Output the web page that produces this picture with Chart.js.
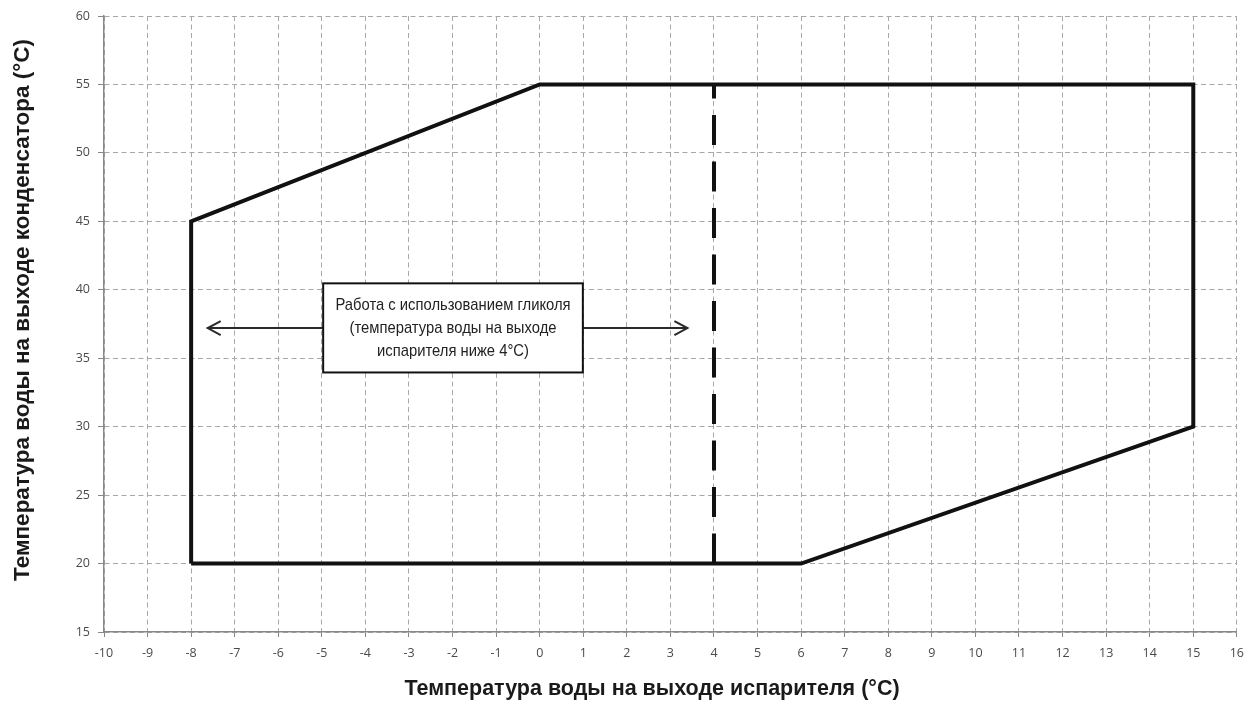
<!DOCTYPE html>
<html>
<head>
<meta charset="utf-8">
<script src="https://cdn.jsdelivr.net/npm/chart.js@4/dist/chart.umd.min.js"></script>
<style>
  html, body { margin: 0; padding: 0; background: #fff; }
  #wrap { width: 1253px; height: 703px; position: relative; }
</style>
</head>
<body>
<div id="wrap"><canvas id="chart"></canvas></div>
<script>
// operating envelope (evaporator out, condenser out)
var envelopeX = [-8, -8, 0, 15, 15, 6, -8];
var envelopeY = [20, 45, 55, 55, 30, 20, 20];

// glycol limit line at 4 C
var glycolX = [4, 4];
var glycolY = [20, 55];

// annotation: box corners and arrow ends
var noteLines = ['Работа с использованием гликоля', '(температура воды на выходе', 'испарителя ниже 4°C)'];
var noteBoxX = [-4.97, 0.99];
var noteBoxY = [33.96, 40.47];
var arrowY = 37.2;
var arrowLeftX = [-4.97, -7.62];
var arrowRightX = [0.99, 3.39];

var xTitle = 'Температура воды на выходе испарителя (°C)';
var yTitle = 'Температура воды на выходе конденсатора (°C)';

function pts(xs, ys) {
  return xs.map(function(x, i) { return { x: x, y: ys[i] }; });
}

var notePlugin = {
  id: 'note',
  afterDatasetsDraw: function(chart) {
    var ctx = chart.ctx;
    var sx = chart.scales.x, sy = chart.scales.y;
    var ay = sy.getPixelForValue(arrowY);

    function arrow(x0, x1) {
      var p0 = sx.getPixelForValue(x0), p1 = sx.getPixelForValue(x1);
      var d = p1 > p0 ? 1 : -1;
      ctx.beginPath();
      ctx.moveTo(p0, ay);
      ctx.lineTo(p1, ay);
      ctx.moveTo(p1 - d * 13, ay - 7);
      ctx.lineTo(p1, ay);
      ctx.lineTo(p1 - d * 13, ay + 7);
      ctx.stroke();
    }

    ctx.save();
    ctx.strokeStyle = '#2a2a2a';
    ctx.lineWidth = 2;
    ctx.lineJoin = 'miter';
    arrow(arrowLeftX[0], arrowLeftX[1]);
    arrow(arrowRightX[0], arrowRightX[1]);

    var l = sx.getPixelForValue(noteBoxX[0]), r = sx.getPixelForValue(noteBoxX[1]);
    var t = sy.getPixelForValue(noteBoxY[1]), b = sy.getPixelForValue(noteBoxY[0]);
    ctx.fillStyle = '#fff';
    ctx.fillRect(l, t, r - l, b - t);
    ctx.strokeStyle = '#111';
    ctx.lineWidth = 2;
    ctx.strokeRect(l, t, r - l, b - t);

    // condensed look: squeeze a normal sans horizontally
    ctx.fillStyle = '#222';
    ctx.font = '17px "Liberation Sans", Arial, sans-serif';
    ctx.textAlign = 'center';
    ctx.textBaseline = 'middle';
    var cx = (l + r) / 2, cy = (t + b) / 2;
    noteLines.forEach(function(s, i) {
      ctx.save();
      ctx.translate(cx, cy + (i - 1) * 23);
      ctx.scale(0.87, 1);
      ctx.fillText(s, 0, 0);
      ctx.restore();
    });
    ctx.restore();
  },
  afterDraw: function(chart) {
    var ctx = chart.ctx;
    ctx.save();
    ctx.fillStyle = '#1a1a1a';
    ctx.textAlign = 'center';
    ctx.textBaseline = 'middle';
    ctx.font = 'bold 21.5px "Liberation Sans", Arial, sans-serif';
    ctx.fillText(xTitle, 652, 689);
    ctx.translate(23, 310);
    ctx.rotate(-Math.PI / 2);
    ctx.font = 'bold 22.5px "Liberation Sans", Arial, sans-serif';
    ctx.fillText(yTitle, 0, 0);
    ctx.restore();
  }
};

var tickFont = { family: '"Open Sans", sans-serif', size: 12.5 };

var config = {
  type: 'scatter',
  data: {
    datasets: [{
      data: pts(envelopeX, envelopeY),
      showLine: true,
      borderColor: '#111',
      borderWidth: 4,
      pointRadius: 0,
      fill: false,
      tension: 0,
      borderJoinStyle: 'miter'
    }, {
      data: pts(glycolX, glycolY),
      showLine: true,
      borderColor: '#111',
      borderWidth: 4,
      borderDash: [30, 16.5],
      pointRadius: 0,
      fill: false
    }]
  },
  options: {
    responsive: true,
    maintainAspectRatio: false,
    animation: false,
    layout: { padding: { top: 16, right: 11, left: 0, bottom: 0 } },
    plugins: {
      legend: { display: false },
      tooltip: { enabled: false }
    },
    scales: {
      x: {
        type: 'linear',
        min: -10,
        max: 16,
        afterFit: function(s) { s.height = 71; },
        ticks: { stepSize: 1, color: '#4a4a4a', font: tickFont, padding: 9, maxRotation: 0 },
        grid: { color: '#a8a8a8', lineWidth: 1, tickLength: 5, tickColor: '#888' },
        border: { color: '#888', width: 1.5, dash: [5, 3.5] }
      },
      y: {
        type: 'linear',
        min: 15,
        max: 60,
        afterFit: function(s) { s.width = 104; },
        ticks: { stepSize: 5, color: '#4a4a4a', font: tickFont, padding: 8 },
        grid: { color: '#a8a8a8', lineWidth: 1, tickLength: 6, tickColor: '#888' },
        border: { color: '#888', width: 1.5, dash: [5, 3.5] }
      }
    }
  },
  plugins: [notePlugin]
};

new Chart(document.getElementById('chart').getContext('2d'), config);
</script>
</body>
</html>
